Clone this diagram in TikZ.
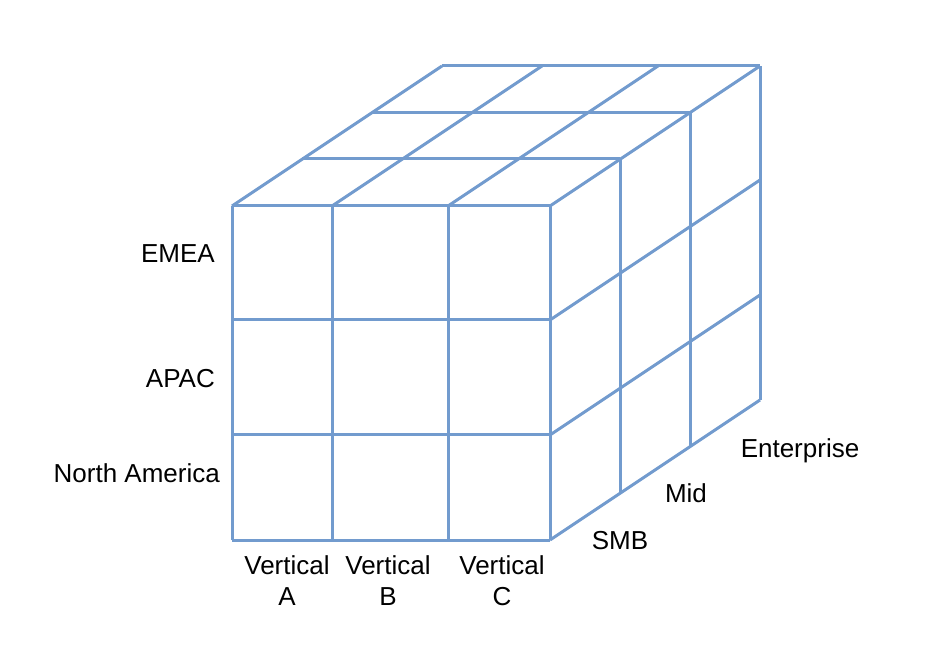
\documentclass[tikz,border=0pt]{standalone}
\usepackage{fontspec}
\setmainfont{Liberation Sans}
\definecolor{cubeblue}{RGB}{114,155,206}

\begin{document}
\begin{tikzpicture}[x=1pt, y=1pt,
    cubeline/.style={draw=cubeblue, line width=3pt, line join=round},
    every node/.style={inner sep=0pt, font=\fontsize{26}{31}\selectfont}]
      \useasboundingbox (0,0) rectangle (944,664);
      % front face
      \draw[cubeline] (232,124) -- (232,458);
      \draw[cubeline] (332,124) -- (332,458);
      \draw[cubeline] (448,124) -- (448,458);
      \draw[cubeline] (550,124) -- (550,458);
      \draw[cubeline] (232,124) -- (550,124);
      \draw[cubeline] (232,229) -- (550,229);
      \draw[cubeline] (232,344) -- (550,344);
      \draw[cubeline] (232,458) -- (550,458);
      % top face
      \draw[cubeline] (232,458) -- (442,598);
      \draw[cubeline] (332,458) -- (542,598);
      \draw[cubeline] (448,458) -- (658,598);
      \draw[cubeline] (550,458) -- (760,598);
      \draw[cubeline] (302,505) -- (620,505);
      \draw[cubeline] (372,551) -- (690,551);
      \draw[cubeline] (442,598) -- (760,598);
      % right face
      \draw[cubeline] (550,124) -- (760,264);
      \draw[cubeline] (550,229) -- (760,369);
      \draw[cubeline] (550,344) -- (760,484);
      \draw[cubeline] (620,171) -- (620,505);
      \draw[cubeline] (690,217) -- (690,551);
      \draw[cubeline] (760,264) -- (760,598);
      % rows
      \node[anchor=base east] (emea) at (215,401) {EMEA};
      \node[anchor=base east] (apac) at (215,276) {APAC};
      \node[anchor=base east] (namerica) at (220,182) {North America};
      % columns
      \node[anchor=north, align=center] (verta) at (287,109) {Vertical\\A};
      \node[anchor=north, align=center] (vertb) at (388,109) {Vertical\\B};
      \node[anchor=north, align=center] (vertc) at (502,109) {Vertical\\C};
      % depth
      \node[anchor=base] (smb) at (620,115) {SMB};
      \node[anchor=base] (mid) at (686,162) {Mid};
      \node[anchor=base] (enterprise) at (800,206) {Enterprise};
\end{tikzpicture}
\end{document}
